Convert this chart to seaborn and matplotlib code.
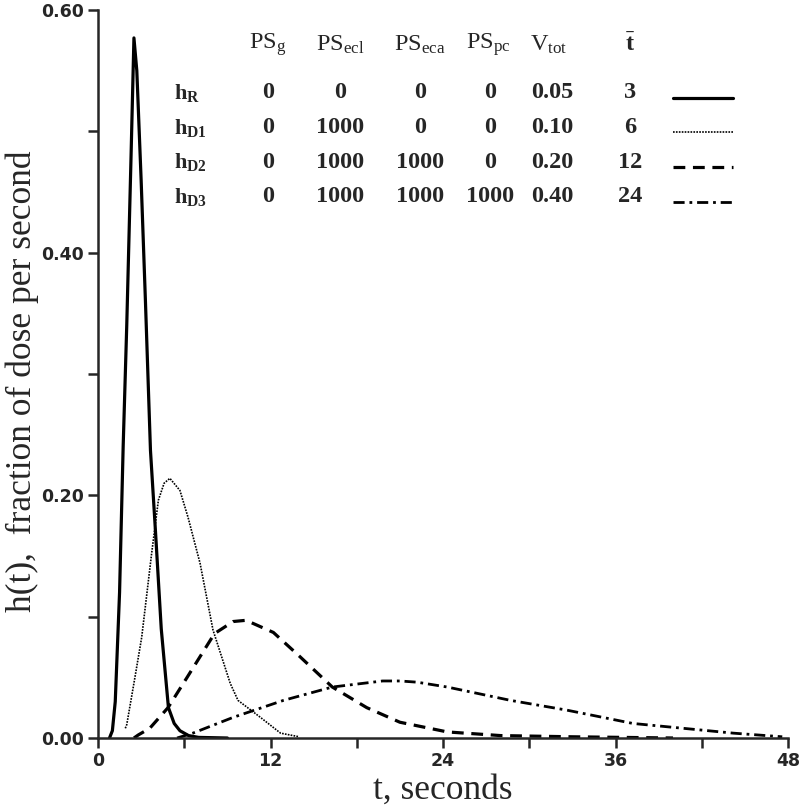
import matplotlib
matplotlib.use("Agg")
import matplotlib.pyplot as plt
import seaborn as sns
import numpy as np

# ---------------- data ----------------
t_R  = [0.8, 1.0, 1.2, 1.5, 1.75, 2.0, 2.3, 2.5, 2.7, 3.0, 3.3, 3.65, 4.0, 4.4, 4.9, 5.3, 5.7, 6.3, 7.0, 9.0]
h_R  = [0.0, 0.006, 0.03, 0.12, 0.24, 0.34, 0.48, 0.577, 0.55, 0.46, 0.36, 0.237, 0.17, 0.09, 0.025, 0.012, 0.006, 0.002, 0.0005, 0.0]

t_D1 = [1.9, 2.0, 2.57, 3.04, 3.73, 4.2, 4.6, 5.0, 5.7, 6.26, 7.1, 8.0, 9.2, 9.74, 11.3, 12.7, 14.0]
h_D1 = [0.008, 0.011, 0.05, 0.083, 0.152, 0.196, 0.21, 0.214, 0.204, 0.182, 0.144, 0.089, 0.045, 0.031, 0.017, 0.004, 0.001]

t_D2 = [2.5, 2.8, 3.6, 4.87, 6.2, 8.1, 9.4, 10.3, 12.2, 14.05, 16.3, 18.7, 21.0, 24.3, 28.0, 33.0, 40.0]
h_D2 = [0.0, 0.0025, 0.008, 0.025, 0.05, 0.086, 0.096, 0.097, 0.087, 0.067, 0.042, 0.025, 0.013, 0.005, 0.002, 0.001, 0.0]

t_D3 = [5.5, 6.6, 9.4, 12.9, 16.3, 19.8, 21.0, 22.2, 24.3, 28.7, 32.6, 37.2, 40.7, 44.2, 47.6]
h_D3 = [0.0, 0.004, 0.017, 0.031, 0.042, 0.047, 0.047, 0.046, 0.042, 0.031, 0.023, 0.012, 0.008, 0.004, 0.001]

row_labels = [r"$\mathbf{h_{R}}$", r"$\mathbf{h_{D1}}$", r"$\mathbf{h_{D2}}$", r"$\mathbf{h_{D3}}$"]
col_headers = [r"$\mathrm{PS_{g}}$", r"$\mathrm{PS_{ecl}}$", r"$\mathrm{PS_{eca}}$",
               r"$\mathrm{PS_{pc}}$", r"$\mathrm{V_{tot}}$", r"$\mathbf{\bar{t}}$"]
PS_g   = ["0", "0", "0", "0"]
PS_ecl = ["0", "1000", "1000", "1000"]
PS_eca = ["0", "0", "1000", "1000"]
PS_pc  = ["0", "0", "0", "1000"]
V_tot  = ["0.05", "0.10", "0.20", "0.40"]
t_mean = ["3", "6", "12", "24"]

x_ticks = [0, 12, 24, 36, 48]
y_ticks = [0.00, 0.20, 0.40, 0.60]

# ---------------- style ----------------
sns.set_style("ticks")
plt.rcParams["font.family"] = ["Liberation Serif", "DejaVu Serif"]
plt.rcParams["mathtext.fontset"] = "custom"
plt.rcParams["mathtext.rm"] = "Liberation Serif"
plt.rcParams["mathtext.it"] = "Liberation Serif:italic"
plt.rcParams["mathtext.bf"] = "Liberation Serif:bold"
plt.rcParams["lines.scale_dashes"] = False

W, H = 800, 808
fig = plt.figure(figsize=(8, 8.08), dpi=100)
x0p, x1p, y0p, y1p = 98, 788, 738, 10
ax = fig.add_axes([x0p / W, 1 - y0p / H, (x1p - x0p) / W, (y0p - y1p) / H])

styles = [
    (t_R, h_R, dict(linestyle="-", linewidth=2.3)),
    (t_D1, h_D1, dict(linestyle=(0, (1.2, 0.9)), linewidth=1.2)),
    (t_D2, h_D2, dict(linestyle=(0, (8.5, 5.5)), linewidth=2.3)),
    (t_D3, h_D3, dict(linestyle=(0, (8.0, 3.5, 2.0, 3.5)), linewidth=2.0)),
]
for tt, hh, kw in styles:
    sns.lineplot(x=tt, y=hh, ax=ax, color="black", sort=False, estimator=None, **kw)

ax.set_xlim(0, 48)
ax.set_ylim(0, 0.60)
sns.despine(ax=ax)
for s in ["left", "bottom"]:
    ax.spines[s].set_linewidth(1.8)

ax.set_xticks(np.arange(0, 49, 6))
ax.set_xticklabels([str(v) if v in x_ticks else "" for v in range(0, 49, 6)])
yt = np.round(np.arange(0, 0.61, 0.1), 2)
ax.set_yticks(yt)
ax.set_yticklabels([f"{v:.2f}" if any(abs(v - y) < 1e-6 for y in y_ticks) else "" for v in yt])
ax.tick_params(axis="both", direction="out", length=7, width=1.8, pad=3)
for lab in ax.get_xticklabels() + ax.get_yticklabels():
    lab.set_family("DejaVu Sans")
    lab.set_fontweight("bold")
    lab.set_fontsize(12.5)

ax.set_xlabel("t, seconds", fontsize=25.5, labelpad=2.5)
ax.set_ylabel("h(t),  fraction of dose per second", fontsize=25.5)
ax.yaxis.set_label_coords((39 - x0p) / (x1p - x0p), 0.49)

# ---------------- in-plot table ----------------
def px2data(px, py):
    return (px - x0p) / (x1p - x0p) * 48, (y0p - py) / (y0p - y1p) * 0.60

col_x = [268, 340, 420, 490, 552, 630]
hdr_x = [268, 340, 420, 488, 549, 630]
row_y = [93, 128, 162, 197]
line_y = [98, 132, 167, 202]
fs = 17.5

for hx, txt in zip(hdr_x, col_headers):
    x, y = px2data(hx, 45)
    ax.text(x, y, txt, ha="center", va="center", fontsize=fs)

cols = [PS_g, PS_ecl, PS_eca, PS_pc, V_tot, t_mean]
for i in range(4):
    x, y = px2data(174, row_y[i])
    ax.text(x, y, row_labels[i], ha="left", va="center", fontsize=fs - 1.5)
    for cx, col in zip(col_x, cols):
        x, y = px2data(cx, row_y[i])
        ax.text(x, y, col[i], ha="center", va="center", fontsize=fs, fontweight="bold")
    xa, ya = px2data(673, line_y[i])
    xb, _ = px2data(733, line_y[i])
    ax.plot([xa, xb], [ya, ya], color="black", **styles[i][2])

fig.savefig("out.png", dpi=100)
